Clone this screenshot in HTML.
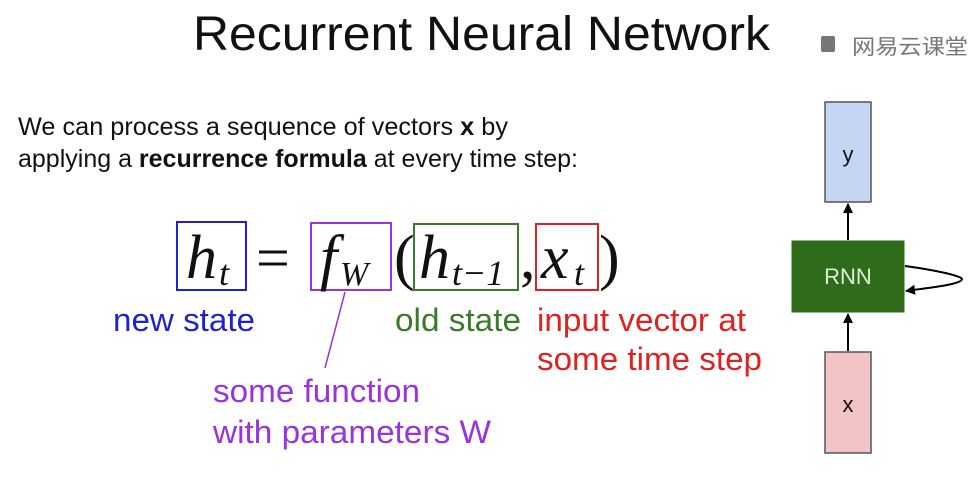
<!DOCTYPE html>
<html><head><meta charset="utf-8"><style>
html,body{margin:0;padding:0;background:#fff;}
svg{display:block;}
</style></head><body>
<svg width="975" height="478" viewBox="0 0 975 478" xmlns="http://www.w3.org/2000/svg">
<defs>
<marker id="ah" markerWidth="10" markerHeight="10" refX="9" refY="5" orient="auto" markerUnits="userSpaceOnUse">
<path d="M0,0 L10,5 L0,10 Z" fill="#000"/>
</marker>
</defs>
<rect width="975" height="478" fill="#fff"/>
<text x="193" y="50" font-family="Liberation Sans, sans-serif" font-size="48" fill="#111" textLength="577" lengthAdjust="spacingAndGlyphs">Recurrent Neural Network</text>
<rect x="821" y="36" width="14" height="16" rx="2" fill="#777"/>
<text x="852" y="54" font-family="Liberation Sans, Noto Sans CJK SC, sans-serif" font-size="21" fill="#777" textLength="116" lengthAdjust="spacingAndGlyphs">网易云课堂</text>
<g font-family="Liberation Sans, sans-serif" font-size="25" fill="#111">
<text x="18" y="135" textLength="490" lengthAdjust="spacingAndGlyphs">We can process a sequence of vectors <tspan font-weight="bold">x</tspan> by</text>
<text x="18" y="167" textLength="560" lengthAdjust="spacingAndGlyphs">applying a <tspan font-weight="bold">recurrence formula</tspan> at every time step:</text>
</g>
<g fill="none" stroke-width="2">
<rect x="177" y="222" width="69" height="68" stroke="#2222cc"/>
<rect x="311" y="223" width="80" height="67" stroke="#9933dd"/>
<rect x="414" y="224" width="104" height="66" stroke="#3a7a2a"/>
<rect x="536" y="224" width="62" height="66" stroke="#dd2222"/>
</g>
<g font-family="Liberation Serif, serif" font-style="italic" fill="#111">
<text x="186" y="278" font-size="62">h</text>
<text x="219" y="285" font-size="36">t</text>
<text x="256" y="278" font-size="60" font-style="normal">=</text>
<text x="320" y="278" font-size="62">f</text>
<text x="340" y="285" font-size="34">W</text>
<text x="394" y="278" font-size="62" font-style="normal">(</text>
<text x="419" y="278" font-size="62">h</text>
<text x="452" y="285" font-size="36">t−1</text>
<text x="520" y="278" font-size="62" font-style="normal">,</text>
<text x="541" y="278" font-size="62">x</text>
<text x="574" y="285" font-size="36">t</text>
<text x="599" y="278" font-size="62" font-style="normal">)</text>
</g>
<line x1="345" y1="292" x2="325" y2="368" stroke="#9933dd" stroke-width="1.5"/>
<g font-family="Liberation Sans, sans-serif" font-size="32">
<text x="113" y="331" fill="#2222cc" textLength="142" lengthAdjust="spacingAndGlyphs">new state</text>
<text x="395" y="331" fill="#3a7a2a" textLength="126" lengthAdjust="spacingAndGlyphs">old state</text>
<text x="537" y="331" fill="#dd2222" textLength="209" lengthAdjust="spacingAndGlyphs">input vector at</text>
<text x="537" y="370" fill="#dd2222" textLength="225" lengthAdjust="spacingAndGlyphs">some time step</text>
<text x="213" y="402" fill="#9933dd" textLength="207" lengthAdjust="spacingAndGlyphs">some function</text>
<text x="213" y="443" fill="#9933dd" textLength="278" lengthAdjust="spacingAndGlyphs">with parameters W</text>
</g>
<rect x="825" y="102" width="46" height="100" fill="#c5d6f5" stroke="#555" stroke-width="1.5"/>
<text x="848" y="162" font-family="Liberation Sans, sans-serif" font-size="22" text-anchor="middle" fill="#111">y</text>
<rect x="792" y="241" width="112" height="71" fill="#2e6b1a" stroke="#2e6b1a"/>
<text x="848" y="284" font-family="Liberation Sans, sans-serif" font-size="22" text-anchor="middle" fill="#dff0d8">RNN</text>
<rect x="825" y="352" width="46" height="101" fill="#f2c4c6" stroke="#555" stroke-width="1.5"/>
<text x="848" y="412" font-family="Liberation Sans, sans-serif" font-size="22" text-anchor="middle" fill="#111">x</text>
<line x1="848" y1="240" x2="848" y2="204" stroke="#000" stroke-width="2" marker-end="url(#ah)"/>
<line x1="848" y1="351" x2="848" y2="314" stroke="#000" stroke-width="2" marker-end="url(#ah)"/>
<path d="M905,266 C935,270 962,276 962,279 C962,284 935,287 906,291" fill="none" stroke="#000" stroke-width="2" marker-end="url(#ah)"/>
</svg>
</body></html>
